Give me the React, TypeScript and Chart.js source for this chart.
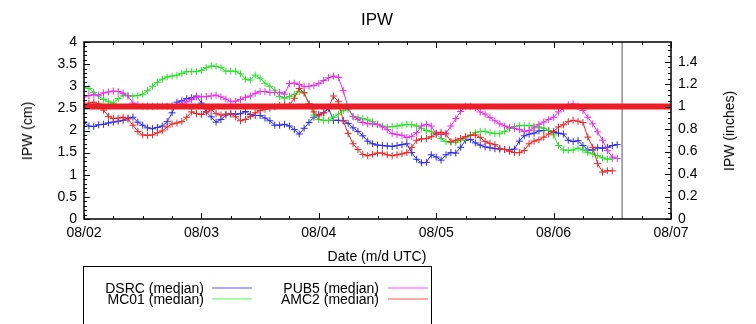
import React, { useEffect, useRef } from 'react';
import { Chart, registerables } from 'chart.js';

Chart.register(...registerables);

// hours since 08/02 00:00 UTC (hourly medians)
const HOURS = [
  0, 1, 2, 3, 4, 5, 6, 7, 8, 9, 10, 11, 12, 13, 14, 15, 16, 17, 18, 19,
  20, 21, 22, 23, 24, 25, 26, 27, 28, 29, 30, 31, 32, 33, 34, 35, 36, 37, 38, 39,
  40, 41, 42, 43, 44, 45, 46, 47, 48, 49, 50, 51, 52, 53, 54, 55, 56, 57, 58, 59,
  60, 61, 62, 63, 64, 65, 66, 67, 68, 69, 70, 71, 72, 73, 74, 75, 76, 77, 78, 79,
  80, 81, 82, 83, 84, 85, 86, 87, 88, 89, 90, 91, 92, 93, 94, 95, 96, 97, 98, 99,
  100, 101, 102, 103, 104, 105, 106, 107, 108, 109,
];

const DSRC = [
  2.19, 2.10, 2.09, 2.13, 2.14, 2.17, 2.19, 2.21, 2.23, 2.28,
  2.30, 2.19, 2.12, 2.06, 2.04, 2.07, 2.10, 2.20, 2.40, 2.64,
  2.67, 2.72, 2.74, 2.78, 2.62, 2.42, 2.31, 2.19, 2.25, 2.35,
  2.38, 2.37, 2.38, 2.43, 2.36, 2.34, 2.34, 2.28, 2.22, 2.12,
  2.12, 2.14, 2.10, 2.02, 1.92, 2.05, 2.18, 2.30, 2.36, 2.40,
  2.50, 2.23, 2.23, 2.22, 2.16, 2.06, 1.98, 1.88, 1.76, 1.70,
  1.67, 1.66, 1.65, 1.64, 1.66, 1.68, 1.70, 1.50, 1.35, 1.27,
  1.28, 1.45, 1.40, 1.33, 1.45, 1.50, 1.49, 1.62, 1.78, 1.80,
  1.72, 1.67, 1.63, 1.61, 1.59, 1.58, 1.57, 1.56, 1.58, 1.76,
  1.88, 1.92, 1.94, 1.99, 2.00, 2.00, 1.96, 1.94, 1.92, 1.78,
  1.75, 1.77, 1.66, 1.56, 1.56, 1.61, 1.60, 1.62, 1.66, 1.68,
];
const MC01 = [
  2.98, 2.95, 2.86, 2.78, 2.70, 2.65, 2.62, 2.72, 2.80, 2.79,
  2.78, 2.79, 2.82, 2.90, 3.00, 3.09, 3.16, 3.21, 3.23, 3.25,
  3.29, 3.33, 3.33, 3.33, 3.36, 3.42, 3.46, 3.45, 3.42, 3.34,
  3.34, 3.34, 3.28, 3.16, 3.14, 3.25, 3.18, 3.07, 3.00, 2.91,
  2.77, 2.73, 2.77, 2.82, 2.88, 2.85, 2.60, 2.35, 2.25, 2.23,
  2.23, 2.30, 2.37, 2.45, 2.48, 2.31, 2.29, 2.27, 2.24, 2.20,
  2.14, 2.10, 2.08, 2.09, 2.10, 2.12, 2.14, 2.13, 2.10, 2.05,
  2.00, 1.97, 1.92, 1.82, 1.75, 1.73, 1.73, 1.78, 1.83, 1.90,
  1.95, 1.98, 1.98, 1.95, 1.93, 1.93, 1.98, 2.05, 2.09, 2.11,
  2.11, 2.11, 2.10, 2.08, 2.05, 2.00, 1.90, 1.66, 1.56, 1.55,
  1.56, 1.60, 1.56, 1.50, 1.47, 1.43, 1.38, 1.35, 1.36,
];
const PUB5 = [
  2.76, 2.79, 2.81, 2.80, 2.85, 2.87, 2.89, 2.88, 2.84, 2.78,
  2.62, 2.58, 2.55, 2.55, 2.55, 2.55, 2.55, 2.55, 2.56, 2.57,
  2.60, 2.65, 2.70, 2.76, 2.76, 2.77, 2.78, 2.80, 2.76, 2.71,
  2.65, 2.66, 2.70, 2.75, 2.78, 2.84, 2.88, 2.88, 2.86, 2.86,
  2.86, 2.82, 3.06, 3.07, 3.04, 2.99, 3.00, 3.02, 3.06, 3.13,
  3.19, 3.23, 3.20, 2.90, 2.52, 2.32, 2.25, 2.18, 2.15, 2.15,
  2.14, 2.08, 2.02, 1.93, 1.91, 1.89, 1.84, 1.87, 1.95, 2.10,
  2.14, 2.10, 1.92, 1.91, 1.94, 2.10, 2.27, 2.43, 2.55, 2.55,
  2.52, 2.42, 2.37, 2.29, 2.22, 2.15, 2.10, 2.07, 2.05, 2.02,
  1.98, 2.00, 2.06, 2.14, 2.19, 2.25, 2.30, 2.42, 2.50, 2.58,
  2.60, 2.55, 2.45, 2.30, 2.15, 1.97, 1.78, 1.55, 1.40, 1.37,
];
const AMC2 = [
  2.57, 2.62, 2.64, 2.60, 2.46, 2.32, 2.27, 2.28, 2.30, 2.26,
  2.12, 1.98, 1.90, 1.89, 1.90, 1.95, 1.99, 2.08, 2.15, 2.17,
  2.20, 2.30, 2.42, 2.38, 2.36, 2.42, 2.47, 2.38, 2.35, 2.37,
  2.37, 2.31, 2.22, 2.25, 2.32, 2.40, 2.45, 2.48, 2.50, 2.54,
  2.57, 2.58, 2.57, 2.73, 2.95, 2.85, 2.60, 2.42, 2.33, 2.40,
  2.52, 2.78, 2.65, 2.22, 1.93, 1.70, 1.57, 1.46, 1.43, 1.46,
  1.49, 1.49, 1.45, 1.43, 1.45, 1.47, 1.50, 1.62, 1.78, 1.81,
  1.82, 1.86, 1.94, 1.96, 1.92, 1.75, 1.78, 1.82, 1.86, 1.89,
  1.90, 1.84, 1.75, 1.71, 1.68, 1.59, 1.57, 1.53, 1.50, 1.50,
  1.55, 1.70, 1.76, 1.79, 1.85, 1.92, 1.98, 2.08, 2.13, 2.20,
  2.23, 2.21, 2.18, 1.85, 1.62, 1.25, 1.06, 1.09, 1.09,
];

const X_TICKS = [0, 24, 48, 72, 96, 120];
const X_LABELS = ['08/02', '08/03', '08/04', '08/05', '08/06', '08/07'];
const Y_TICKS = [0, 0.5, 1, 1.5, 2, 2.5, 3, 3.5, 4];
const Y2_TICKS = [0, 0.2, 0.4, 0.6, 0.8, 1, 1.2, 1.4];
const CM_PER_INCH = 2.54;
const THRESHOLD_CM = 2.54;
const NOW_HOUR = 110;
const X_MAX = 120;
const Y_MAX = 4;

const BLUE = 'rgb(45,45,235)';
const GREEN = 'rgb(40,225,40)';
const MAGENTA = 'rgb(235,45,235)';
const RED = 'rgb(235,40,40)';

const FONT = '"Liberation Sans", Arial, Helvetica, sans-serif';

const frameTicks = {
  id: 'frameTicks',
  afterDatasetsDraw(chart: any) {
    const { ctx, chartArea: a, scales } = chart;
    ctx.save();
    ctx.strokeStyle = '#000';
    ctx.lineWidth = 1;
    const seg = (x1: number, y1: number, x2: number, y2: number) => {
      ctx.beginPath();
      ctx.moveTo(x1, y1);
      ctx.lineTo(x2, y2);
      ctx.stroke();
    };
    for (let i = 0; i <= 20; i++) {
      const px = Math.round(scales.x.getPixelForValue(i * 6)) + 0.5;
      const len = i % 4 === 0 ? 6 : 3;
      seg(px, a.bottom, px, a.bottom - len);
      seg(px, a.top, px, a.top + len);
    }
    for (let i = 0; i <= 40; i++) {
      const py = Math.round(scales.y.getPixelForValue(i / 10)) + 0.5;
      const len = i % 5 === 0 ? 6 : 3;
      seg(a.left, py, a.left + len, py);
    }
    for (let i = 0; i <= 31; i++) {
      const py = Math.round(scales.y2.getPixelForValue(i * 0.05)) + 0.5;
      const len = i % 4 === 0 ? 6 : 3;
      seg(a.right, py, a.right - len, py);
    }
    ctx.lineWidth = 1.5;
    ctx.strokeRect(a.left, a.top, a.right - a.left, a.bottom - a.top);
    ctx.restore();
  },
};

function series(label: string, values: number[], color: string, order: number) {
  return {
    label,
    data: values.map((v, i) => ({ x: HOURS[i], y: v })),
    borderColor: color,
    backgroundColor: color,
    borderWidth: 1,
    pointStyle: 'cross',
    pointRadius: 3.5,
    pointBorderWidth: 1,
    pointBorderColor: color,
    tension: 0,
    order,
    yAxisID: 'y',
  };
}

export default function App() {
  const ref = useRef<HTMLCanvasElement>(null);

  useEffect(() => {
    if (!ref.current) return;
    const tickFont = { family: FONT, size: 14 };
    const chart = new Chart(ref.current, {
      type: 'line',
      data: {
        datasets: [
          {
            label: 'threshold',
            data: [{ x: 0, y: THRESHOLD_CM }, { x: X_MAX, y: THRESHOLD_CM }],
            borderColor: 'rgb(235,30,40)',
            borderWidth: 6,
            pointRadius: 0,
            order: 0,
            yAxisID: 'y',
          } as any,
          {
            label: 'now',
            data: [{ x: NOW_HOUR, y: 0 }, { x: NOW_HOUR, y: Y_MAX }],
            borderColor: '#555',
            borderWidth: 1,
            pointRadius: 0,
            order: 1,
            yAxisID: 'y',
          } as any,
          series('AMC2 (median)', AMC2, RED, 2) as any,
          series('PUB5 (median)', PUB5, MAGENTA, 3) as any,
          series('MC01 (median)', MC01, GREEN, 4) as any,
          series('DSRC (median)', DSRC, BLUE, 5) as any,
        ],
      },
      options: {
        animation: false,
        responsive: false,
        devicePixelRatio: 1,
        events: [],
        layout: { padding: { top: 42, left: 0, right: 0, bottom: 0 } },
        plugins: { legend: { display: false }, tooltip: { enabled: false }, title: { display: false } },
        scales: {
          x: {
            type: 'linear',
            position: 'bottom',
            min: 0,
            max: X_MAX,
            afterBuildTicks: (s: any) => {
              s.ticks = X_TICKS.map((v) => ({ value: v }));
            },
            afterFit: (s: any) => {
              s.height = 105;
            },
            ticks: {
              callback: (_v: any, i: number) => X_LABELS[i],
              font: tickFont,
              color: '#000',
              padding: 6,
              maxRotation: 0,
              autoSkip: false,
            },
            grid: { display: false, drawTicks: false },
            border: { display: false },
          },
          y: {
            type: 'linear',
            position: 'left',
            min: 0,
            max: Y_MAX,
            afterBuildTicks: (s: any) => {
              s.ticks = Y_TICKS.map((v) => ({ value: v }));
            },
            afterFit: (s: any) => {
              s.width = 84;
            },
            ticks: {
              callback: (v: any) => String(v),
              font: tickFont,
              color: '#000',
              padding: 7,
            },
            grid: { display: false, drawTicks: false },
            border: { display: false },
          },
          y2: {
            type: 'linear',
            position: 'right',
            min: 0,
            max: Y_MAX / CM_PER_INCH,
            afterBuildTicks: (s: any) => {
              s.ticks = Y2_TICKS.map((v) => ({ value: v }));
            },
            afterFit: (s: any) => {
              s.width = 85;
            },
            ticks: {
              callback: (v: any) => String(Math.round(v * 10) / 10),
              font: tickFont,
              color: '#000',
              padding: 7,
            },
            grid: { display: false, drawTicks: false },
            border: { display: false },
          },
        },
      },
      plugins: [frameTicks],
    } as any);
    return () => chart.destroy();
  }, []);

  const text: React.CSSProperties = {
    position: 'absolute',
    fontFamily: FONT,
    fontSize: 14,
    lineHeight: '16px',
    color: '#000',
    whiteSpace: 'nowrap',
  };

  const legendRows = [
    { label: 'DSRC (median)', color: 'rgb(170,170,255)', textRight: 204, lineX: 212, y: 288 },
    { label: 'MC01 (median)', color: 'rgb(170,250,170)', textRight: 204, lineX: 212, y: 299 },
    { label: 'PUB5 (median)', color: 'rgb(255,170,255)', textRight: 379, lineX: 388, y: 288 },
    { label: 'AMC2 (median)', color: 'rgb(255,170,170)', textRight: 379, lineX: 388, y: 299 },
  ];

  return (
    <div style={{ position: 'fixed', left: 0, top: 0, width: 756, height: 324, background: '#fff', overflow: 'hidden' }}>
      <canvas ref={ref} width={756} height={324} style={{ display: 'block', width: 756, height: 324 }} />
      <div style={{ ...text, fontSize: 17, lineHeight: '20px', left: 377, top: 20, transform: 'translate(-50%,-50%)' }}>IPW</div>
      <div style={{ ...text, left: 27, top: 131, transform: 'translate(-50%,-50%) rotate(-90deg)' }}>IPW (cm)</div>
      <div style={{ ...text, left: 729, top: 131, transform: 'translate(-50%,-50%) rotate(-90deg)' }}>IPW (inches)</div>
      <div style={{ ...text, left: 377, top: 256, transform: 'translate(-50%,-50%)' }}>Date (m/d UTC)</div>
      <div style={{ position: 'absolute', left: 83, top: 266, width: 349, height: 70, border: '1px solid #000', boxSizing: 'border-box' }} />
      {legendRows.map((r) => (
        <React.Fragment key={r.label}>
          <div style={{ ...text, right: 756 - r.textRight, top: r.y - 8, textAlign: 'right' }}>{r.label}</div>
          <div style={{ position: 'absolute', left: r.lineX, top: r.y - 1, width: 40, height: 2, background: r.color }} />
        </React.Fragment>
      ))}
    </div>
  );
}
